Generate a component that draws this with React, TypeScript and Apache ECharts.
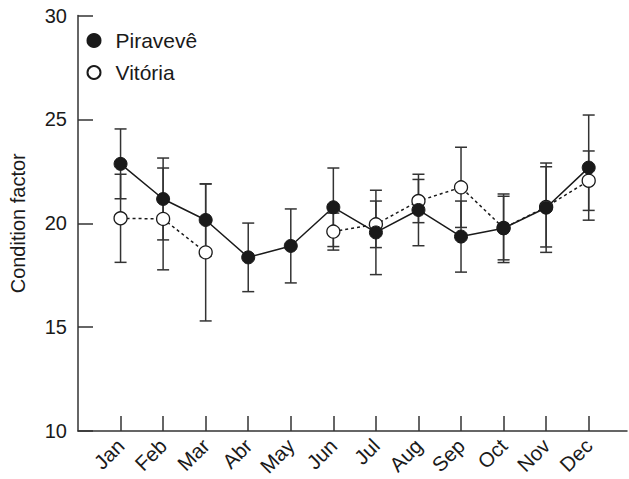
import React, { useEffect, useRef } from "react";
import * as echarts from "echarts";

const months = ["Jan", "Feb", "Mar", "Abr", "May", "Jun", "Jul", "Aug", "Sep", "Oct", "Nov", "Dec"];
const monthIndex = [1, 2, 3, 4, 5, 6, 7, 8, 9, 10, 11, 12];

const piraveveMean = [22.86, 21.17, 20.16, 18.36, 18.91, 20.77, 19.56, 20.64, 19.36, 19.76, 20.75, 22.68];
const piraveveErr = [1.68, 1.97, 1.73, 1.65, 1.78, 1.89, 2.03, 1.72, 1.71, 1.65, 2.15, 2.53];

const vitoriaMean: (number | null)[] = [20.24, 20.21, 18.6, null, null, 19.6, 19.95, 21.07, 21.73, 19.77, 20.79, 22.05];
const vitoriaErr: (number | null)[] = [2.12, 2.45, 3.3, null, null, 0.89, 1.12, 1.04, 1.93, 1.53, 1.93, 1.43];

const yTicks = [10, 15, 20, 25, 30];

const FONT = "'Liberation Sans', Arial, Helvetica, sans-serif";
const INK = "#1a1a1a";
const AXIS = "#333333";

function errData(means: (number | null)[], errs: (number | null)[]) {
  const out: number[][] = [];
  means.forEach((m, i) => {
    const e = errs[i];
    if (m != null && e != null) out.push([monthIndex[i], m - e, m + e]);
  });
  return out;
}

function renderErr(params: any, api: any) {
  const x = api.value(0);
  const lo = api.coord([x, api.value(1)]);
  const hi = api.coord([x, api.value(2)]);
  const hw = 6;
  const style = { stroke: AXIS, lineWidth: 1.5 };
  return {
    type: "group",
    children: [
      { type: "line", shape: { x1: lo[0], y1: lo[1], x2: hi[0], y2: hi[1] }, style },
      { type: "line", shape: { x1: lo[0] - hw, y1: lo[1], x2: lo[0] + hw, y2: lo[1] }, style },
      { type: "line", shape: { x1: hi[0] - hw, y1: hi[1], x2: hi[0] + hw, y2: hi[1] }, style },
    ],
  };
}

export default function App() {
  const ref = useRef<HTMLDivElement>(null);
  useEffect(() => {
    if (!ref.current) return;
    const chart = echarts.init(ref.current, null, { renderer: "svg" });
    chart.setOption({
      animation: false,
      backgroundColor: "#ffffff",
      textStyle: { fontFamily: FONT },
      grid: { left: 78, right: 2, top: 15.5, bottom: 47.5, containLabel: false },
      legend: {
        orient: "vertical",
        left: 81.5,
        top: 25,
        itemWidth: 33,
        itemHeight: 13,
        itemGap: 11,
        textStyle: { fontFamily: FONT, fontSize: 21, color: INK },
        data: [
          { name: "Piravevê", icon: "circle" },
          { name: "Vitória", icon: "circle" },
        ],
      },
      xAxis: {
        type: "value",
        min: 0,
        max: 12.9,
        splitLine: { show: false },
        axisLine: { show: true, lineStyle: { color: AXIS, width: 1.5 } },
        axisTick: {
          show: true,
          inside: true,
          length: 15,
          customValues: monthIndex,
          lineStyle: { color: AXIS, width: 1.5 },
        },
        axisLabel: {
          customValues: monthIndex,
          rotate: 45,
          margin: 11,
          fontSize: 20.5,
          fontFamily: FONT,
          color: INK,
          formatter: (v: number) => months[Math.round(v) - 1] ?? "",
        },
      },
      yAxis: {
        type: "value",
        min: 10,
        max: 30,
        interval: 5,
        name: "Condition factor",
        nameLocation: "middle",
        nameGap: 50,
        nameRotate: 90,
        nameTextStyle: { fontSize: 20, fontFamily: FONT, color: INK },
        splitLine: { show: false },
        axisLine: { show: true, lineStyle: { color: AXIS, width: 1.5 } },
        axisTick: { show: true, inside: true, length: 15, lineStyle: { color: AXIS, width: 1.5 } },
        axisLabel: {
          margin: 11,
          fontSize: 20,
          fontFamily: FONT,
          color: INK,
          formatter: (v: number) => (yTicks.includes(v) ? String(v) : ""),
        },
      },
      series: [
        {
          name: "errV",
          type: "custom",
          renderItem: renderErr,
          data: errData(vitoriaMean, vitoriaErr),
          encode: { x: 0, y: [1, 2] },
          z: 1,
          silent: true,
        },
        {
          name: "errP",
          type: "custom",
          renderItem: renderErr,
          data: errData(piraveveMean, piraveveErr),
          encode: { x: 0, y: [1, 2] },
          z: 1,
          silent: true,
        },
        {
          name: "Vitória",
          type: "line",
          z: 2,
          data: vitoriaMean.map((v, i) => [monthIndex[i], v == null ? "-" : v]),
          symbol: "circle",
          symbolSize: 13,
          showSymbol: true,
          lineStyle: { color: INK, width: 1.5, type: [3, 3] },
          itemStyle: { color: "#ffffff", borderColor: INK, borderWidth: 1.3 },
          connectNulls: false,
        },
        {
          name: "Piravevê",
          type: "line",
          z: 3,
          data: piraveveMean.map((v, i) => [monthIndex[i], v]),
          symbol: "circle",
          symbolSize: 13,
          showSymbol: true,
          lineStyle: { color: INK, width: 1.5 },
          itemStyle: { color: INK, borderColor: INK, borderWidth: 1 },
        },
      ],
    });
    return () => chart.dispose();
  }, []);
  return <div ref={ref} style={{ width: 629, height: 479, position: "absolute", left: 0, top: 0 }} />;
}
